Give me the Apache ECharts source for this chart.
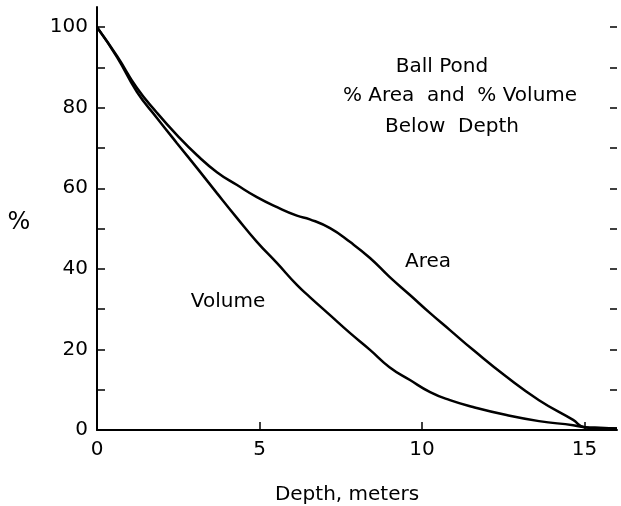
<!DOCTYPE html>
<html>
<head>
<meta charset="utf-8">
<script src="https://cdn.jsdelivr.net/npm/echarts@6/dist/echarts.min.js"></script>
<style>html,body{margin:0;padding:0;background:#fff}#c{width:621px;height:506px}</style>
</head>
<body>
<div id="c"></div>
<script>
// Data
const areaDepth = [0, 0.62, 1.23, 1.85, 2.46, 3.08, 3.69, 4.31, 4.92, 5.54, 6.15, 6.55, 7.17, 7.78, 8.4, 9.0, 9.63, 10.25, 10.86, 11.57, 12.6, 13.6, 14.65, 15.0, 15.5, 16];
const areaPct   = [100, 92.8, 84.9, 78.7, 73.2, 68.2, 64.0, 60.8, 57.8, 55.3, 53.2, 52.3, 50.1, 46.7, 42.7, 38.0, 33.5, 29.0, 24.8, 19.9, 13.2, 7.4, 2.5, 0.7, 0.5, 0.4];
const volumeDepth = [0, 0.62, 1.23, 1.85, 2.46, 3.08, 3.69, 4.31, 4.92, 5.54, 6.15, 6.55, 7.17, 7.78, 8.4, 9.0, 9.63, 10.25, 10.86, 11.57, 12.6, 13.6, 14.65, 15.0, 15.5, 16];
const volumePct   = [100, 92.5, 83.9, 77.4, 71.2, 65.0, 58.8, 52.6, 46.7, 41.4, 36.0, 33.0, 28.5, 24.1, 19.9, 15.6, 12.4, 9.4, 7.4, 5.7, 3.7, 2.2, 1.2, 0.7, 0.5, 0.4];
const xTickLabels = [0, 5, 10, 15];
const yTickLabels = [0, 20, 40, 60, 80, 100];
const yMinorTicks = [0, 10, 20, 30, 40, 50, 60, 70, 80, 90, 100];
const titleLines = ['Ball Pond', '% Area  and  % Volume', 'Below  Depth'];

const font = 'DejaVu Sans';
const chart = echarts.init(document.getElementById('c'), null, {renderer: 'canvas'});
const pair = (xs, ys) => xs.map((x, i) => [x, ys[i]]);
const lineStyle = {color: '#000', width: 2.5};
const txt = (x, y, text, size) => ({type: 'text', x: x, y: y, style: {text: text, fill: '#000', font: size + 'px "' + font + '"', align: 'center', verticalAlign: 'middle'}});

chart.setOption({
  backgroundColor: '#fff',
  animation: false,
  grid: {left: 97, right: 4, top: 7, bottom: 76, containLabel: false},
  xAxis: {
    type: 'value', min: 0, max: 16, interval: 5,
    axisLine: {show: true, onZero: false, lineStyle: {color: '#000', width: 2}},
    axisTick: {show: true, inside: true, length: 8, customValues: [5, 10, 15], lineStyle: {color: '#000', width: 1.5}},
    axisLabel: {show: true, customValues: xTickLabels, margin: 10, color: '#000', fontFamily: font, fontSize: 20},
    splitLine: {show: false}
  },
  yAxis: [{
    type: 'value', min: 0, max: 105, position: 'left',
    axisLine: {show: true, onZero: false, lineStyle: {color: '#000', width: 2}},
    axisTick: {show: true, inside: true, length: 8, customValues: yMinorTicks, lineStyle: {color: '#000', width: 1.5}},
    axisLabel: {show: true, customValues: yTickLabels, margin: 9, color: '#000', fontFamily: font, fontSize: 20},
    splitLine: {show: false}
  }, {
    type: 'value', min: 0, max: 105, position: 'right',
    axisLine: {show: false, onZero: false},
    axisTick: {show: true, inside: true, length: 7, customValues: yMinorTicks.slice(1), lineStyle: {color: '#000', width: 1.5}},
    axisLabel: {show: false},
    splitLine: {show: false}
  }],
  series: [{
    name: 'Area', type: 'line', data: pair(areaDepth, areaPct),
    smooth: 0.5, symbol: 'none', lineStyle: lineStyle
  }, {
    name: 'Volume', type: 'line', data: pair(volumeDepth, volumePct),
    smooth: 0.5, symbol: 'none', lineStyle: lineStyle
  }],
  graphic: [
    txt(442, 67, titleLines[0], 20),
    txt(460, 96, titleLines[1], 20),
    txt(452, 127, titleLines[2], 20),
    txt(428, 262, 'Area', 20),
    txt(228, 302, 'Volume', 20),
    txt(19, 223, '%', 24),
    txt(347, 495, 'Depth, meters', 20)
  ]
});
</script>
</body>
</html>
